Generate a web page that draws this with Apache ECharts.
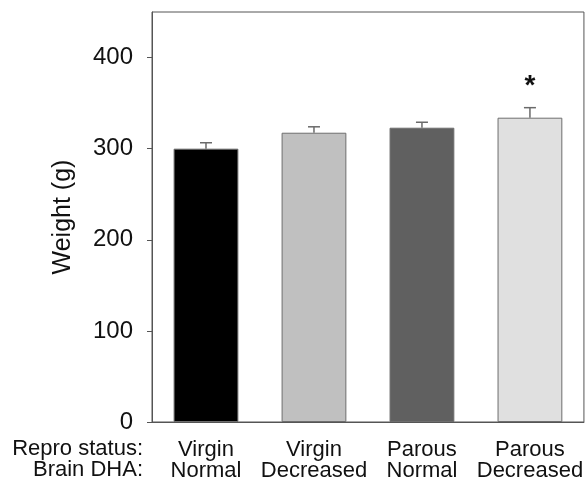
<!DOCTYPE html>
<html>
<head>
<meta charset="utf-8">
<script src="https://cdn.jsdelivr.net/npm/echarts@6/dist/echarts.min.js"></script>
<style>
  html, body { margin: 0; padding: 0; background: #fff; }
  #main { width: 586px; height: 486px; }
</style>
</head>
<body>
<div id="main"></div>
<script>
// ---------------- data ----------------
var reproStatus = ['Virgin', 'Virgin', 'Parous', 'Parous'];
var brainDHA = ['Normal', 'Decreased', 'Normal', 'Decreased'];
var weightMean = [300, 317.5, 323, 334];
var weightSem = [6.5, 6.5, 6, 11];
var sigMarks = ['', '', '', '*'];
var yTicks = [0, 100, 200, 300, 400];
var barColors = ['#000000', '#c0c0c0', '#606060', '#e0e0e0'];

var categories = reproStatus.map(function (r, i) { return r + '\n' + brainDHA[i]; });

var FONT = 'Liberation Sans, Arial, sans-serif';
var chart = echarts.init(document.getElementById('main'));

// error bar + significance mark
function renderErr(params, api) {
  var x = api.value(0), m = api.value(1), e = api.value(2);
  var base = api.coord([x, m]);
  var top = api.coord([x, m + e]);
  var children = [
    { type: 'line', shape: { x1: base[0], y1: base[1], x2: top[0], y2: top[1] },
      style: { stroke: '#6a6a6a', lineWidth: 1.5 } },
    { type: 'line', shape: { x1: top[0] - 6, y1: top[1], x2: top[0] + 6, y2: top[1] },
      style: { stroke: '#6a6a6a', lineWidth: 1.5 } }
  ];
  var mark = sigMarks[params.dataIndex];
  if (mark) {
    children.push({ type: 'text', x: top[0], y: top[1] - 21,
      style: { text: mark, fontSize: 28, fontWeight: 'bold', fontFamily: FONT, fill: '#111', align: 'center', verticalAlign: 'middle' } });
  }
  return { type: 'group', children: children };
}

var option = {
  animation: false,
  grid: { left: 152, top: 12, right: 1, bottom: 64, show: true, borderColor: '#555', borderWidth: 1 },
  xAxis: {
    type: 'category',
    data: categories,
    axisLine: { lineStyle: { color: '#555', width: 1 } },
    axisTick: { alignWithLabel: true, length: 5, lineStyle: { color: '#555' } },
    axisLabel: { color: '#111', fontSize: 22, fontFamily: FONT, lineHeight: 21, margin: 17, interval: 0 }
  },
  yAxis: {
    type: 'value',
    min: 0, max: 450, interval: 50,
    name: 'Weight (g)',
    nameLocation: 'middle',
    nameGap: 76,
    nameTextStyle: { color: '#111', fontSize: 25, fontFamily: FONT },
    splitLine: { show: false },
    axisLine: { show: true, lineStyle: { color: '#555', width: 1 } },
    axisTick: { show: true, length: 5, lineStyle: { color: '#555' }, customValues: yTicks },
    axisLabel: { color: '#111', fontSize: 24, fontFamily: FONT, margin: 19, customValues: yTicks }
  },
  graphic: [
    { type: 'text', x: 143, y: 449,
      style: { text: 'Repro status:', align: 'right', verticalAlign: 'middle', fontSize: 22, fontFamily: FONT, fill: '#111' } },
    { type: 'text', x: 143, y: 470,
      style: { text: 'Brain DHA:', align: 'right', verticalAlign: 'middle', fontSize: 22, fontFamily: FONT, fill: '#111' } }
  ],
  series: [
    {
      type: 'bar',
      barWidth: '60%',
      data: weightMean.map(function (v, i) {
        return { value: v, itemStyle: { color: barColors[i] } };
      }),
      itemStyle: { borderColor: '#6e6e6e', borderWidth: 1 }
    },
    {
      type: 'custom',
      renderItem: renderErr,
      data: weightMean.map(function (v, i) { return [i, v, weightSem[i]]; }),
      z: 5
    }
  ]
};
chart.setOption(option);
</script>
</body>
</html>
